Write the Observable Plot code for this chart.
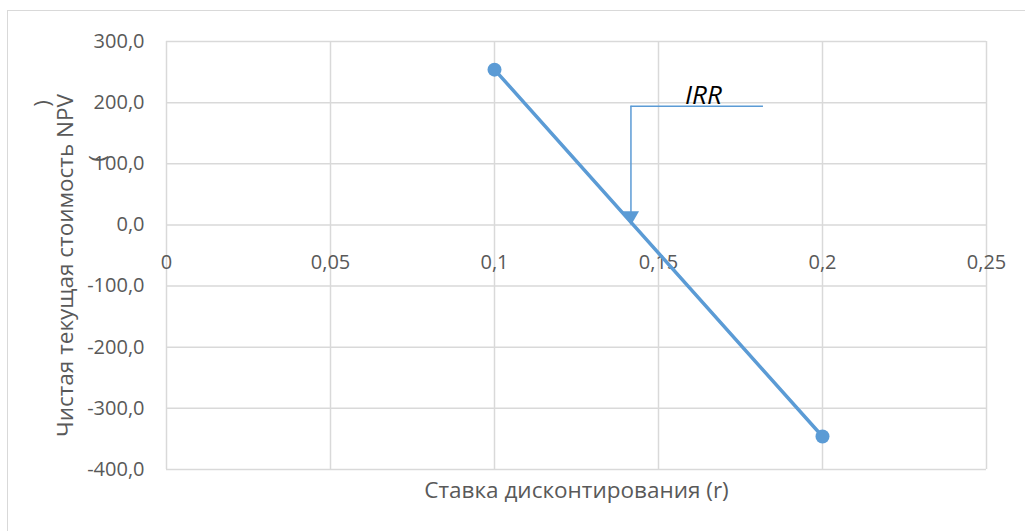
<!DOCTYPE html>
<html>
<head>
<meta charset="utf-8">
<script src="https://cdn.jsdelivr.net/npm/d3@7"></script>
<script src="https://cdn.jsdelivr.net/npm/@observablehq/plot@0.6"></script>
<style>
  html, body { margin: 0; padding: 0; background: #fff; overflow: hidden; }
  #wrap { position: relative; width: 1025px; height: 531px; }
  #border { position: absolute; left: 7px; top: 10px; width: 1040px; height: 540px; border: 1.5px solid #d9d9d9; box-sizing: border-box; }
  #wrap svg { position: absolute; left: 0; top: 0; }
</style>
</head>
<body>
<div id="wrap"><div id="border"></div></div>
<script>
// Data
const rates = [0.1, 0.2];
const npvValues = [254, -346];
const xTicks = [0, 0.05, 0.1, 0.15, 0.2, 0.25];
const xTickLabels = ["0", "0,05", "0,1", "0,15", "0,2", "0,25"];
const yTicks = [-400, -300, -200, -100, 0, 100, 200, 300];
const irrRate = [0.1416];
const irrLeaderY = [194];
const irrLeaderEnd = [0.182];
const irrArrowY = [14.8];
const irrLabelX = [0.1637];
const irrLabel = ["IRR"];
const xTitle = "Ставка дисконтирования (r)";
const yTitle = "Чистая текущая стоимость NPV";

const points = rates.map((r, i) => ({r, npv: npvValues[i]}));
const xLabelData = xTicks.map((t, i) => ({t, label: xTickLabels[i]}));

const blue = "#5b9bd5";
const grid = "#d9d9d9";
const font = "'Open Sans', sans-serif";

const chart = Plot.plot({
  width: 1025,
  height: 531,
  marginLeft: 166,
  marginRight: 39,
  marginTop: 41,
  marginBottom: 62,
  style: {fontFamily: font, fontSize: "20px", color: "#595959", background: "transparent"},
  x: {domain: [0, 0.25], axis: null},
  y: {domain: [-400, 300], ticks: yTicks, tickFormat: d => d.toFixed(1).replace(".", ","), tickSize: 0, tickPadding: 22, label: null},
  marks: [
    Plot.ruleX(xTicks, {stroke: grid, strokeWidth: 1.5}),
    Plot.ruleY(yTicks, {stroke: grid, strokeWidth: 1.5}),
    Plot.text(xLabelData, {x: "t", y: () => 0, text: "label", dy: 38, fontSize: 20, fill: "#595959", textAnchor: "middle"}),
    // IRR annotation
    Plot.ruleY(irrLeaderY, {x1: irrRate[0], x2: irrLeaderEnd[0], y: d => d, stroke: blue, strokeWidth: 1.5}),
    Plot.ruleX(irrRate, {x: d => d, y1: irrArrowY[0], y2: irrLeaderY[0], stroke: blue, strokeWidth: 1.5}),
    Plot.dot(irrRate, {x: d => d, y: () => irrArrowY[0], symbol: "triangle", rotate: 180, r: 6, fill: blue, stroke: "none"}),
    Plot.text(irrLabel, {x: () => irrLabelX[0], y: () => irrLeaderY[0], text: d => d, dy: -11, fontSize: 26, fontStyle: "italic", fill: "#000", textAnchor: "middle"}),
    // series
    Plot.line(points, {x: "r", y: "npv", stroke: blue, strokeWidth: 3.5}),
    Plot.dot(points, {x: "r", y: "npv", r: 7, fill: blue, stroke: "none"}),
    // titles
    Plot.text([xTitle], {frameAnchor: "bottom", text: d => d, dy: 28, fontSize: 22.5, fill: "#595959", textAnchor: "middle"}),
    Plot.text([yTitle], {frameAnchor: "left", text: d => d, dx: -101, dy: 10, rotate: -90, fontSize: 22.5, fill: "#595959", textAnchor: "middle"}),
    Plot.text([")"], {frameAnchor: "top-left", text: d => d, dx: -132, dy: 62, rotate: -90, fontSize: 22.5, fill: "#595959", textAnchor: "middle"}),
    Plot.text(["("], {frameAnchor: "top-left", text: d => d, dx: -77, dy: 117, rotate: -90, fontSize: 22.5, fill: "#595959", textAnchor: "middle"})
  ]
});
document.getElementById("wrap").appendChild(chart);
</script>
</body>
</html>
